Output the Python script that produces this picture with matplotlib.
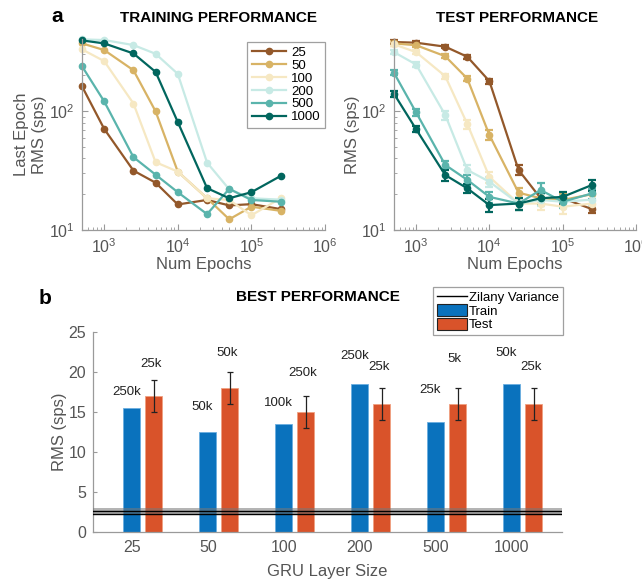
import matplotlib
matplotlib.use("Agg")
import matplotlib.pyplot as plt
import numpy as np
from matplotlib.lines import Line2D
from matplotlib.patches import Patch

plt.rcParams['font.family'] = ['Liberation Sans', 'DejaVu Sans']
plt.rcParams['mathtext.fontset'] = 'custom'
plt.rcParams['mathtext.rm'] = 'Liberation Sans'
plt.rcParams['mathtext.it'] = 'Liberation Sans'
plt.rcParams['mathtext.bf'] = 'Liberation Sans:bold'

# ---------------- data ----------------
epochs = [500, 1000, 2500, 5000, 10000, 25000, 50000, 100000, 250000]
layer_sizes = ['25', '50', '100', '200', '500', '1000']

train_25 = [162, 71, 31.6, 25.0, 16.4, 17.9, 16.1, 16.5, 15.0]
train_50 = [372, 327, 221, 99.6, 31, 18.5, 12.3, 15.7, 14.5]
train_100 = [331, 264, 116, 37.2, 31, 18.5, 17.9, 13.3, 18.5]
train_200 = [402, 397, 360, 304, 206, 36.9, 22, 18.5, 18]
train_500 = [239, 121, 41, 29.2, 20.8, 13.6, 22.2, 17.9, 17.3]
train_1000 = [394, 372, 306, 214, 81, 22.5, 18.5, 20.8, 28.5]

test_25 = [382, 377, 349, 287, 179, 32, 18.5, 18.5, 15]
test_50 = [372, 359, 290, 188, 63, 20.6, 18.5, 17.9, 20]
test_100 = [365, 314, 197, 78, 28, 16.7, 16.7, 15.7, 16.7]
test_200 = [314, 247, 93, 32, 25.5, 16.7, 17.9, 17.3, 18]
test_500 = [210, 97.7, 35.3, 26.4, 19, 16.7, 21.7, 17.3, 20.3]
test_1000 = [140, 70.6, 29, 22.4, 16.2, 16.7, 18.5, 19, 23.9]

test_err_25 = [15, 15, 12, 12, 9, 3, 2, 2, 1]
test_err_50 = [15, 14, 12, 10, 6, 2, 2, 2, 2]
test_err_100 = [14, 12, 10, 7, 3, 2, 2, 2, 1.5]
test_err_200 = [12, 10, 8, 3, 2.5, 2, 2, 2, 2]
test_err_500 = [10, 7, 3, 2.5, 2, 2, 3, 2, 2]
test_err_1000 = [8, 4, 3, 2, 2, 2, 2, 2, 2.5]

best_train = [15.5, 12.5, 13.45, 18.45, 13.7, 18.45]
best_test = [17, 18, 15, 16, 16, 16]
best_test_err = [2, 2, 2, 2, 2, 2]
train_epoch_labels = ['250k', '50k', '100k', '250k', '25k', '50k']
test_epoch_labels = ['25k', '50k', '250k', '25k', '5k', '25k']
zilany_band = [2.2, 2.95]
zilany_lines = [2.3, 2.65]

# ---------------- style ----------------
series_colors = ['#93582a', '#d8b365', '#f6e8c3', '#c7eae5', '#5ab4ac', '#01665e']
train_series = [train_25, train_50, train_100, train_200, train_500, train_1000]
test_series = [test_25, test_50, test_100, test_200, test_500, test_1000]
test_errs = [test_err_25, test_err_50, test_err_100, test_err_200, test_err_500, test_err_1000]
train_label_gap = [1.25, 2.4, 1.9, 2.75, 3.3, 3.2]
test_label_gap = [1.25, 1.6, 2.1, 1.9, 2.9, 1.9]

spine_c = '#9a9a9a'
tick_c = '#555555'
blue = '#0a72bd'
orange = '#d9532a'

fig = plt.figure(figsize=(6.42, 5.8), dpi=100)
W, H = 642.0, 580.0

ax1 = fig.add_axes([82 / W, 1 - 230 / H, 243 / W, 191 / H])
ax2 = fig.add_axes([394 / W, 1 - 230 / H, 242 / W, 191 / H])
ax3 = fig.add_axes([93 / W, 1 - 532 / H, 469 / W, 200 / H])


def style_log(ax):
    ax.set_xscale('log')
    ax.set_yscale('log')
    ax.set_xlim(500, 1e6)
    ax.set_ylim(10, 405)
    for s in ['top', 'right']:
        ax.spines[s].set_visible(False)
    for s in ['left', 'bottom']:
        ax.spines[s].set_color(spine_c)
        ax.spines[s].set_linewidth(0.9)
    ax.set_xticks([1e3, 1e4, 1e5, 1e6])
    ax.set_yticks([10, 100])
    ax.tick_params(which='major', direction='in', length=4, color=spine_c,
                   labelcolor=tick_c, labelsize=11.5, pad=5)
    ax.tick_params(which='minor', direction='in', length=2, color=spine_c)
    ax.set_xlabel('Num Epochs', fontsize=12, color=tick_c, labelpad=1)


style_log(ax1)
style_log(ax2)

for ys, c, lab in zip(train_series, series_colors, layer_sizes):
    ax1.plot(epochs, ys, '-o', color=c, lw=1.6, ms=4.5, label=lab, clip_on=False)

for ys, es, c in zip(test_series, test_errs, series_colors):
    ax2.errorbar(epochs, ys, yerr=es, fmt='-o', color=c, lw=1.6, ms=4.5,
                 elinewidth=1.6, capsize=3, capthick=1.6, clip_on=False)

ax1.set_ylabel('Last Epoch\nRMS (sps)', fontsize=12, color=tick_c, labelpad=2)
ax2.set_ylabel('RMS (sps)', fontsize=12, color=tick_c, labelpad=1)

leg1 = ax1.legend(loc='upper left', bbox_to_anchor=(247 / W, 1 - 42 / H),
                  bbox_transform=fig.transFigure, fontsize=9.5, frameon=True,
                  fancybox=False, edgecolor='#888888', handlelength=2.6,
                  handletextpad=0.4, labelspacing=0.05, borderpad=0.35,
                  borderaxespad=0)
leg1.get_frame().set_linewidth(0.9)

fig.text(218 / W, 1 - 18 / H, 'TRAINING PERFORMANCE', fontsize=11, fontweight='bold',
         ha='center', va='center')
fig.text(517 / W, 1 - 18 / H, 'TEST PERFORMANCE', fontsize=11, fontweight='bold',
         ha='center', va='center')
fig.text(57 / W, 1 - 17 / H, 'a', fontsize=15, fontweight='bold', ha='center', va='center')

# ---------------- bottom panel ----------------
pos = np.arange(1, len(layer_sizes) + 1)
bw = 0.225
off = 0.29
ax3.bar(pos, best_train, width=bw, color=blue, edgecolor='#6aaee0', linewidth=0.6,
        label='Train', zorder=2)
ax3.bar(pos + off, best_test, width=bw, color=orange, edgecolor='#f0a080', linewidth=0.6,
        label='Test', zorder=2)
ax3.errorbar(pos + off, best_test, yerr=best_test_err, fmt='none', ecolor='#222222',
             elinewidth=0.9, capsize=2.5, capthick=0.9, zorder=3)

ax3.axhspan(zilany_band[0], zilany_band[1], color='#777777', alpha=0.55, lw=0, zorder=3)
for v in zilany_lines:
    ax3.axhline(v, color='black', lw=1.0, zorder=4)

for i in range(len(pos)):
    ax3.text(pos[i] - 0.07, best_train[i] + train_label_gap[i], train_epoch_labels[i],
             ha='center', va='bottom', fontsize=9.5, color='#222222')
    ax3.text(pos[i] + off - 0.04, best_test[i] + best_test_err[i] + test_label_gap[i],
             test_epoch_labels[i], ha='center', va='bottom', fontsize=9.5, color='#222222')

ax3.set_xlim(0.49, 6.66)
ax3.set_ylim(0, 25)
ax3.set_xticks(pos)
ax3.set_xticklabels(layer_sizes)
ax3.set_yticks([0, 5, 10, 15, 20, 25])
for s in ['top', 'right']:
    ax3.spines[s].set_visible(False)
for s in ['left', 'bottom']:
    ax3.spines[s].set_color(spine_c)
    ax3.spines[s].set_linewidth(0.9)
ax3.tick_params(axis='y', direction='in', length=3, color=spine_c, labelcolor=tick_c,
                labelsize=11.5, pad=5)
ax3.tick_params(axis='x', length=0, labelcolor=tick_c, labelsize=11.5, pad=6)
ax3.set_ylabel('RMS (sps)', fontsize=12, color=tick_c, labelpad=1)
ax3.set_xlabel('GRU Layer Size', fontsize=12, color=tick_c, labelpad=6)

handles = [Line2D([0], [0], color='black', lw=1.0),
           Patch(facecolor=blue, edgecolor='#222222', linewidth=0.8),
           Patch(facecolor=orange, edgecolor='#222222', linewidth=0.8)]
leg3 = ax3.legend(handles, ['Zilany Variance', 'Train', 'Test'], loc='upper right',
                  bbox_to_anchor=(563 / W, 1 - 287 / H), bbox_transform=fig.transFigure,
                  fontsize=9.5, frameon=True, fancybox=False, edgecolor='#888888',
                  handlelength=2.3, handleheight=1.0, handletextpad=0.15,
                  labelspacing=0.0, borderpad=0.3, borderaxespad=0)
leg3.get_frame().set_linewidth(0.9)

fig.text(318 / W, 1 - 297 / H, 'BEST PERFORMANCE', fontsize=11, fontweight='bold',
         ha='center', va='center')
fig.text(45 / W, 1 - 299 / H, 'b', fontsize=15, fontweight='bold', ha='center', va='center')

fig.savefig('out.png', dpi=100)
